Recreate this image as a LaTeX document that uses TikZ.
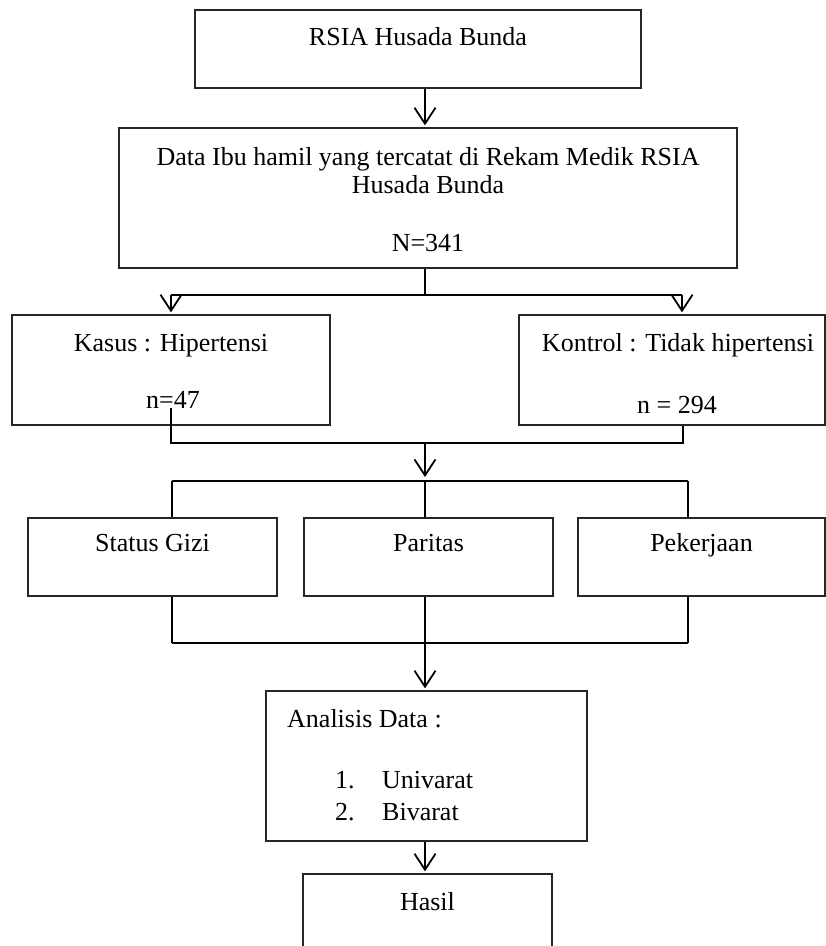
\documentclass[tikz,border=0pt]{standalone}
\usepackage{fontspec}
\setmainfont{Liberation Serif}
\usetikzlibrary{arrows.meta}

\begin{document}
\begin{tikzpicture}[x=1pt,y=-1pt,
        kotak/.style={draw=black!85, line width=1.3pt, inner sep=0pt},
        teks/.style={font=\fontsize{26}{28}\selectfont, inner sep=0pt, anchor=base},
        garis/.style={line width=1.8pt},
        panah/.style={garis, -{Straight Barb[length=16pt,width=21pt]}, shorten >=2pt}]
        \useasboundingbox (0,0) rectangle (826,946);

        % 定义坐标
        \coordinate (p1) at (425,295);
        \coordinate (kiri1) at (171,295);
        \coordinate (kanan1) at (682,295);
        \coordinate (ujung) at (171,408);
        \coordinate (p2) at (425,443);
        \coordinate (kanan2) at (683,443);
        \coordinate (p3) at (425,481);
        \coordinate (kiri3) at (172,481);
        \coordinate (kanan3) at (688,481);
        \coordinate (p4) at (425,643);
        \coordinate (kiri4) at (172,643);
        \coordinate (kanan4) at (688,643);

        % 绘制方框
        \node[kotak, minimum width=446pt, minimum height=78pt] (rsia) at (418,49) {};
        \node[kotak, minimum width=618pt, minimum height=140pt] (data) at (428,198) {};
        \node[kotak, minimum width=318pt, minimum height=110pt] (kasus) at (171,370) {};
        \node[kotak, minimum width=306pt, minimum height=110pt] (kontrol) at (672,370) {};
        \node[kotak, minimum width=249pt, minimum height=78pt] (gizi) at (152.5,557) {};
        \node[kotak, minimum width=249pt, minimum height=78pt] (paritas) at (428.5,557) {};
        \node[kotak, minimum width=247pt, minimum height=78pt] (kerja) at (701.5,557) {};
        \node[kotak, minimum width=321pt, minimum height=150pt] (analisis) at (426.5,766) {};
        \node[kotak, minimum width=249pt, minimum height=100pt] (hasil) at (427.5,924) {};

        % 文字
        \node[teks] (trsia) at (418,45) {RSIA Husada Bunda};
        \node[teks] (tdata1) at (428,165) {Data Ibu hamil yang tercatat di Rekam Medik RSIA};
        \node[teks] (tdata2) at (428,193) {Husada Bunda};
        \node[teks] (tdata3) at (428,251) {N=341};
        \node[teks] (tkasus1) at (171,351) {Kasus : Hipertensi};
        \node[teks] (tkasus2) at (173,408) {n=47};
        \node[teks] (tkontrol1) at (678,351) {Kontrol : Tidak hipertensi};
        \node[teks] (tkontrol2) at (677,413) {n = 294};
        \node[teks] (tgizi) at (152.5,551) {Status Gizi};
        \node[teks] (tparitas) at (428.5,551) {Paritas};
        \node[teks] (tkerja) at (701.5,551) {Pekerjaan};
        \node[teks, anchor=base west] (tanalisis) at (287,727) {Analisis Data :};
        \node[teks, anchor=base west] (tno1) at (335,788) {1.};
        \node[teks, anchor=base west] (tuni) at (382,788) {Univarat};
        \node[teks, anchor=base west] (tno2) at (335,820) {2.};
        \node[teks, anchor=base west] (tbi) at (382,820) {Bivarat};
        \node[teks] (thasil) at (427.5,910) {Hasil};

        % 绘制连线
        \draw[panah] (rsia.south -| p1) -- (data.north -| p1);
        \draw[garis] (data.south -| p1) -- (p1);
        \draw[garis] (kiri1) -- (kanan1);
        \draw[panah] (kiri1) -- (kasus.north -| kiri1);
        \draw[panah] (kanan1) -- (kontrol.north -| kanan1);
        \draw[garis] (ujung) |- (kanan2) -- (kontrol.south -| kanan2);
        \draw[panah, shorten >=4pt] (p2) -- (p3);
        \draw[garis] (kiri3) -- (kanan3);
        \foreach \k/\b in {kiri3/gizi, p3/paritas, kanan3/kerja}
            \draw[garis] (\k) -- (\b.north -| \k);
        \foreach \k/\b in {kiri4/gizi, p4/paritas, kanan4/kerja}
            \draw[garis] (\b.south -| \k) -- (\k);
        \draw[garis] (kiri4) -- (kanan4);
        \draw[panah] (p4) -- (analisis.north -| p4);
        \draw[panah] (analisis.south -| p4) -- (hasil.north -| p4);
\end{tikzpicture}
\end{document}
